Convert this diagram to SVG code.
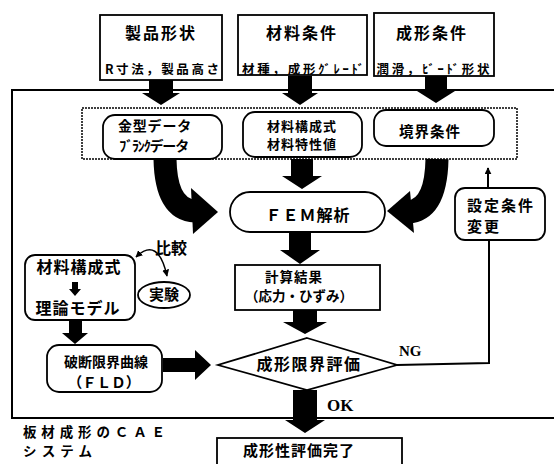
<svg xmlns="http://www.w3.org/2000/svg" width="554" height="464" viewBox="0 0 554 464">
<style>
text{font-family:"Noto Sans CJK JP","Noto Sans",sans-serif;font-weight:bold;fill:#000;}
.box{fill:#fff;stroke:#000;stroke-width:1.8;}
.dot{fill:none;stroke:#000;stroke-width:1.5;stroke-dasharray:2 1;}
.ln{fill:none;stroke:#000;stroke-width:2;}
.blk{fill:#000;stroke:none;}
.c{text-anchor:middle;}
.lat{font-family:"Liberation Serif",serif;font-weight:bold;}
</style>
<defs>
<marker id="ah" viewBox="0 0 10 10" refX="9" refY="5" markerWidth="7" markerHeight="7" orient="auto-start-reverse" markerUnits="userSpaceOnUse">
<path d="M0,0 L10,5 L0,10 Z" fill="#000"/>
</marker>
</defs>

<!-- frame -->
<g id="frame">
<path class="ln" d="M554,90 L12,90 L12,418 L554,418"/>
<rect class="dot" x="82" y="108" width="435" height="51"/>
</g>

<g id="n-seihin">
<rect class="box" x="100" y="15" width="122" height="65"/>
<text class="c" x="161" y="39" font-size="16" letter-spacing="2">製品形状</text>
<text class="c" x="162" y="74" font-size="12.5" textLength="114" lengthAdjust="spacing">R寸法，製品高さ</text>
</g>
<g id="n-zairyo">
<rect class="box" x="238" y="15" width="129" height="60"/>
<text class="c" x="302" y="39" font-size="16" letter-spacing="2">材料条件</text>
<text class="c" x="303" y="74" font-size="12.5" textLength="122" lengthAdjust="spacing">材種，成形ｸﾞﾚｰﾄﾞ</text>
</g>
<g id="n-seikei">
<rect class="box" x="374" y="13" width="120" height="63"/>
<text class="c" x="432" y="39" font-size="16" letter-spacing="2">成形条件</text>
<text class="c" x="433" y="74" font-size="12.5" textLength="113" lengthAdjust="spacing">潤滑，ﾋﾞｰﾄﾞ形状</text>
</g>

<g id="n-kanagata">
<rect class="box" x="103" y="115" width="119" height="44" rx="12"/>
<text x="118" y="131" font-size="14" letter-spacing="0.8">金型データ</text>
<text x="118" y="151" font-size="14" textLength="70" lengthAdjust="spacing">ﾌﾞﾗﾝｸデータ</text>
</g>
<g id="n-kousei">
<rect class="box" x="243" y="112" width="119" height="45" rx="12"/>
<text class="c" x="302" y="131" font-size="13" letter-spacing="1">材料構成式</text>
<text class="c" x="302" y="149" font-size="13" letter-spacing="1">材料特性値</text>
</g>
<g id="n-kyokai">
<rect class="box" x="374" y="110" width="120" height="36" rx="12"/>
<text class="c" x="430" y="137" font-size="14.5" letter-spacing="1">境界条件</text>
</g>

<g id="n-fem">
<rect class="box" x="230" y="192" width="155" height="40" rx="20"/>
<text class="c" x="308" y="221" font-size="16" letter-spacing="1">ＦＥＭ解析</text>
</g>

<g id="n-keisan">
<rect class="box" x="235" y="265" width="145" height="45"/>
<text class="c" x="294" y="282" font-size="13.5" letter-spacing="1">計算結果</text>
<text class="c" x="299" y="301" font-size="13.5">（応力・ひずみ）</text>
</g>

<g id="n-hyoka">
<polygon class="box" points="307,338 397,365 307,390 218,365"/>
<text class="c" x="309" y="370" font-size="16" letter-spacing="1.5">成形限界評価</text>
</g>

<g id="n-henkou">
<rect class="box" x="455" y="188" width="90" height="52" rx="10"/>
<text x="467" y="211" font-size="15" letter-spacing="2">設定条件</text>
<text x="467" y="232" font-size="15" letter-spacing="2">変更</text>
</g>

<g id="n-riron">
<rect class="box" x="25" y="255" width="110" height="65" rx="10"/>
<text class="c" x="79" y="273" font-size="16" letter-spacing="1">材料構成式</text>
<path class="blk" d="M72,282 L78,282 L78,289 L81,289 L75,296 L69,289 L72,289 Z"/>
<text class="c" x="78" y="314" font-size="16" letter-spacing="1">理論モデル</text>
</g>

<g id="n-jikken">
<ellipse class="box" cx="164" cy="295" rx="26" ry="13"/>
<text class="c" x="164" y="300" font-size="15">実験</text>
</g>

<g id="n-fld">
<rect class="box" x="47" y="345" width="115" height="47" rx="12"/>
<text class="c" x="106" y="367" font-size="14">破断限界曲線</text>
<text class="c" x="104" y="388" font-size="14.5">（ＦＬＤ）</text>
</g>

<g id="n-kanryo">
<rect class="box" x="217" y="438" width="185" height="40"/>
<text class="c" x="299" y="456" font-size="15" letter-spacing="1">成形性評価完了</text>
</g>

<g id="n-title">
<text x="23" y="437" font-size="13.5" textLength="142" lengthAdjust="spacing">板材成形のＣＡＥ</text>
<text x="23" y="456" font-size="13.5" textLength="69" lengthAdjust="spacing">システム</text>
</g>

<g id="connectors">
<!-- top block arrows -->
<path class="blk" d="M149,80 L173,80 L173,93 L180,93 L161,105 L142,93 L149,93 Z"/>
<path class="blk" d="M288,76 L312,76 L312,93 L318,93 L300,105 L282,93 L288,93 Z"/>
<path class="blk" d="M425,76 L447,76 L447,91 L455,91 L436,103 L417,91 L425,91 Z"/>
<!-- into FEM -->
<path class="blk" d="M291,159 L313,159 L313,176 L322,176 L302,189 L282,176 L291,176 Z"/>
<path fill="none" stroke="#000" stroke-width="23" d="M165,159 Q166,210 195,211"/>
<path class="blk" d="M191,188 L218,212 L193,234 Z"/>
<path fill="none" stroke="#000" stroke-width="23" d="M437,159 Q436,210 408,212"/>
<path class="blk" d="M410,191 L387,211 L414,233 Z"/>
<!-- FEM to result -->
<path class="blk" d="M289,232 L311,232 L311,250 L320,250 L300,264 L280,250 L289,250 Z"/>
<!-- result to diamond -->
<path class="blk" d="M293,310 L317,310 L317,322 L327,322 L305,334 L283,322 L293,322 Z"/>
<!-- OK -->
<path class="blk" d="M293,390 L317,390 L317,420 L325,420 L305,433 L285,420 L293,420 Z"/>
<text class="lat" x="327" y="411" font-size="17">OK</text>
<!-- NG loop -->
<path class="ln" d="M397,365 L489,363 L489,240"/>
<path class="ln" d="M488,188 L488,168" marker-end="url(#ah)"/>
<text class="lat" x="399" y="356" font-size="15">NG</text>
<!-- riron to FLD -->
<path class="blk" d="M69,320 L82,320 L82,333 L88,333 L75,344 L62,333 L69,333 Z"/>
<!-- FLD to diamond -->
<path class="blk" d="M163,358 L195,358 L195,350 L211,365 L195,380 L195,372 L163,372 Z"/>
<!-- compare arc -->
<path fill="none" stroke="#000" stroke-width="1.5" d="M136,257 Q158,236 167,276" marker-start="url(#ah)" marker-end="url(#ah)"/>
<text x="155" y="254" font-size="16">比較</text>
</g>
</svg>
